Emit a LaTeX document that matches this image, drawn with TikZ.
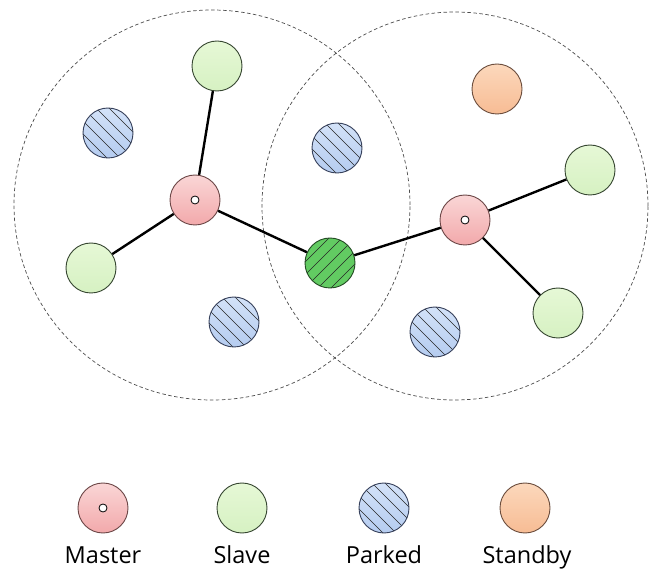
\documentclass[tikz,border=0pt]{standalone}
\usepackage{fontspec}
\setsansfont{Open Sans}
\definecolor{mastertop}{HTML}{FAD6D6}
\definecolor{masterbot}{HTML}{F2A9AB}
\definecolor{masterline}{HTML}{6B4646}
\definecolor{slavetop}{HTML}{E6F8D6}
\definecolor{slavebot}{HTML}{D6F1C2}
\definecolor{slaveline}{HTML}{354530}
\definecolor{parkedtop}{HTML}{D3E2F8}
\definecolor{parkedbot}{HTML}{B5CCF0}
\definecolor{parkedline}{HTML}{36405A}
\definecolor{bridgefill}{HTML}{62CB62}
\definecolor{bridgeline}{HTML}{234A23}
\definecolor{standbytop}{HTML}{FCD8BC}
\definecolor{standbybot}{HTML}{F7BC94}
\definecolor{standbyline}{HTML}{6A4C3C}
\begin{document}
\begin{tikzpicture}[x=1pt,y=-1pt,
  dev/.style={circle, minimum size=50pt, inner sep=0pt, line width=0.9pt},
  master/.style={dev, draw=masterline, top color=mastertop, bottom color=masterbot,
    path picture={\draw[black, line width=0.8pt, fill=white]
      (path picture bounding box.center) circle[radius=4pt];}},
  slave/.style={dev, draw=slaveline, top color=slavetop, bottom color=slavebot},
  standby/.style={dev, draw=standbyline, top color=standbytop, bottom color=standbybot},
  parked/.style={dev, draw=parkedline, top color=parkedtop, bottom color=parkedbot,
    path picture={\foreach \d in {-65,-52,...,65}{
      \draw[black!85, line width=0.6pt] ([xshift=\d pt]path picture bounding box.center)
        ++(-35pt,35pt) -- ++(70pt,-70pt);}}},
  bridge/.style={dev, draw=bridgeline, fill=bridgefill,
    path picture={\foreach \d in {-65,-52,...,65}{
      \draw[black!85, line width=0.6pt] ([xshift=\d pt]path picture bounding box.center)
        ++(-35pt,-35pt) -- ++(70pt,70pt);}}},
  link/.style={draw=black, line width=2.4pt},
  zone/.style={draw=black!70, line width=0.7pt, dash pattern=on 3.5pt off 2.5pt},
  caption/.style={font=\sffamily\fontsize{23.5}{26}\selectfont, text=black}
]
\useasboundingbox (0,0) rectangle (649,572);

% piconet ranges
\draw[zone] (212,205) circle[x radius=198pt, y radius=195pt];
\draw[zone] (455,206) circle[x radius=193pt, y radius=194pt];

% left piconet
\node[slave]  (s1) at (217,66)  {};
\node[parked] (p1) at (108,133) {};
\node[master] (m1) at (195,200) {};
\node[slave]  (s2) at (91,268)  {};
\node[parked] (p2) at (234,322) {};

% shared area
\node[parked] (p3) at (337,148) {};
\node[bridge] (b)  at (330,263) {};

% right piconet
\node[standby] (sb) at (497,89)  {};
\node[master]  (m2) at (465,220) {};
\node[slave]   (s3) at (590,170) {};
\node[slave]   (s4) at (558,313) {};
\node[parked]  (p4) at (435,332) {};

% links
\draw[link] (m1) -- (s1);
\draw[link] (m1) -- (s2);
\draw[link] (m1) -- (b);
\draw[link] (b) -- (m2);
\draw[link] (m2) -- (s3);
\draw[link] (m2) -- (s4);

% legend
\node[master]  (lm) at (103,508) {};
\node[slave]   (ls) at (242,508) {};
\node[parked]  (lp) at (384,508) {};
\node[standby] (lb) at (525,508) {};
\node[caption, anchor=base] (tm) at (103,563) {Master};
\node[caption, anchor=base] (ts) at (242,563) {Slave};
\node[caption, anchor=base] (tp) at (384,563) {Parked};
\node[caption, anchor=base] (tb) at (527,563) {Standby};
\end{tikzpicture}
\end{document}
